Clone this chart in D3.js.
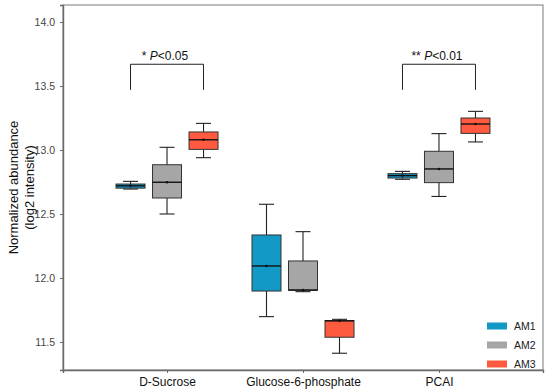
<!DOCTYPE html>
<html>
<head>
<meta charset="utf-8">
<script src="https://cdn.jsdelivr.net/npm/d3@7/dist/d3.min.js"></script>
<style>
  body { margin: 0; background: #fff; }
  svg { font-family: Arial, "Liberation Sans", sans-serif; }
</style>
</head>
<body>
<script>
const metabolites = ['D-Sucrose', 'Glucose-6-phosphate', 'PCAI']
const groups = ['AM1', 'AM2', 'AM3']
const groupColors = ['#1399c6', '#a6a6a6', '#fe5a3f']
const yTicks = [11.5, 12.0, 12.5, 13.0, 13.5, 14.0]

// box stats per group: [min, q1, median, q3, max], one entry per metabolite
const am1Stats = [
  [12.695, 12.702, 12.72, 12.734, 12.755],
  [11.698, 11.898, 12.094, 12.336, 12.576],
  [12.771, 12.781, 12.80, 12.815, 12.833]
]
const am2Stats = [
  [12.50, 12.625, 12.748, 12.885, 13.021],
  [11.893, 11.904, 11.906, 12.133, 12.362],
  [12.637, 12.745, 12.852, 12.99, 13.128]
]
const am3Stats = [
  [12.94, 13.005, 13.08, 13.141, 13.208],
  [11.412, 11.537, 11.665, 11.667, 11.677],
  [13.063, 13.13, 13.203, 13.25, 13.302]
]
const allStats = [am1Stats, am2Stats, am3Stats]

// significance brackets: metabolite, bracket top, leg bottom, label
const sigMetabolites = ['D-Sucrose', 'PCAI']
const sigTop = [13.67, 13.67]
const sigBottom = [13.47, 13.47]
const sigStars = ['*', '**']
const sigP = ['<0.05', '<0.01']

const width = 550
const height = 392
const margin = { top: 5, right: 7, bottom: 22, left: 63 }

const svg = d3.select('body').append('svg')
  .attr('width', width)
  .attr('height', height)

const x = d3.scalePoint()
  .domain(metabolites)
  .range([margin.left, width - margin.right])
  .padding(0.765)

const xGroup = d3.scalePoint()
  .domain(groups)
  .range([-36.5, 36.5])

const y = d3.scaleLinear()
  .domain([11.281, 14.133])
  .range([height - margin.bottom, margin.top])

const color = d3.scaleOrdinal().domain(groups).range(groupColors)

// panel border
svg.append('rect')
  .attr('x', margin.left)
  .attr('y', margin.top)
  .attr('width', width - margin.left - margin.right)
  .attr('height', height - margin.top - margin.bottom)
  .attr('fill', 'none')
  .attr('stroke', '#7a7a7a')
  .attr('stroke-width', 1)

// y axis
const yAxis = svg.append('g')
  .attr('transform', `translate(${margin.left},0)`)
  .call(d3.axisLeft(y).tickValues(yTicks).tickFormat(d3.format('.1f')).tickSize(3).tickPadding(5))
yAxis.select('.domain').attr('stroke', '#6a6a6a').attr('stroke-width', 1.4)
yAxis.selectAll('.tick line').attr('stroke', '#6a6a6a')
yAxis.selectAll('.tick text').attr('fill', '#444').style('font-size', '10.5px')

// x axis
const xAxis = svg.append('g')
  .attr('transform', `translate(0,${height - margin.bottom})`)
  .call(d3.axisBottom(x).tickSize(3).tickPadding(4))
xAxis.select('.domain').attr('stroke', '#6a6a6a').attr('stroke-width', 1.4)
xAxis.selectAll('.tick line').attr('stroke', '#6a6a6a')
xAxis.selectAll('.tick text').attr('fill', '#111').style('font-size', '12px')

// y title
const yTitle = svg.append('text')
  .attr('transform', `translate(13,${(margin.top + height - margin.bottom) / 2}) rotate(-90)`)
  .attr('text-anchor', 'middle')
  .attr('fill', '#111')
  .style('font-size', '13px')
yTitle.append('tspan').attr('x', 0).attr('dy', '0.35em').text('Normalized abundance')
yTitle.append('tspan').attr('x', 0).attr('dy', '16px').text('(log2 intensity)')

// boxes
const boxW = 29
const capW = 15
const boxes = []
groups.forEach((g, gi) => {
  metabolites.forEach((m, mi) => {
    const [min, q1, med, q3, max] = allStats[gi][mi]
    boxes.push({ g, m, min, q1, med, q3, max })
  })
})

const boxG = svg.append('g')
  .selectAll('g')
  .data(boxes)
  .enter()
  .append('g')
  .attr('transform', (d) => `translate(${x(d.m) + xGroup(d.g)},0)`)

boxG.append('line')
  .attr('y1', (d) => y(d.max))
  .attr('y2', (d) => y(d.min))
  .attr('stroke', '#222')
  .attr('stroke-width', 1.1)
boxG.append('line')
  .attr('x1', -capW / 2).attr('x2', capW / 2)
  .attr('y1', (d) => y(d.max)).attr('y2', (d) => y(d.max))
  .attr('stroke', '#222').attr('stroke-width', 1.1)
boxG.append('line')
  .attr('x1', -capW / 2).attr('x2', capW / 2)
  .attr('y1', (d) => y(d.min)).attr('y2', (d) => y(d.min))
  .attr('stroke', '#222').attr('stroke-width', 1.1)
boxG.append('rect')
  .attr('x', -boxW / 2)
  .attr('width', boxW)
  .attr('y', (d) => y(d.q3))
  .attr('height', (d) => Math.max(1, y(d.q1) - y(d.q3)))
  .attr('fill', (d) => color(d.g))
  .attr('stroke', '#333')
  .attr('stroke-width', 1)
boxG.append('line')
  .attr('x1', -boxW / 2).attr('x2', boxW / 2)
  .attr('y1', (d) => y(d.med)).attr('y2', (d) => y(d.med))
  .attr('stroke', '#111').attr('stroke-width', 1.4)
boxG.append('circle')
  .attr('cy', (d) => y(d.med))
  .attr('r', 1.3)
  .attr('fill', '#111')

// significance brackets
sigMetabolites.forEach((m, i) => {
  const x1 = x(m) + xGroup('AM1')
  const x2 = x(m) + xGroup('AM3')
  svg.append('path')
    .attr('d', `M${x1},${y(sigBottom[i])}V${y(sigTop[i])}H${x2}V${y(sigBottom[i])}`)
    .attr('fill', 'none')
    .attr('stroke', '#222')
    .attr('stroke-width', 1)
  const t = svg.append('text')
    .attr('x', (x1 + x2) / 2 - 2)
    .attr('y', y(sigTop[i]) - 4)
    .attr('text-anchor', 'middle')
    .attr('fill', '#111')
    .style('font-size', '12px')
  t.append('tspan').text(sigStars[i] + ' ')
  t.append('tspan').attr('font-style', 'italic').text('P')
  t.append('tspan').text(sigP[i])
})

// legend
const legend = svg.append('g')
  .selectAll('g')
  .data(groups)
  .enter()
  .append('g')
  .attr('transform', (d, i) => `translate(487,${326 + i * 19})`)
legend.append('rect')
  .attr('x', 0).attr('y', -3.5)
  .attr('width', 20).attr('height', 7)
  .attr('fill', (d) => color(d))
legend.append('text')
  .attr('x', 27).attr('y', 0)
  .attr('dy', '0.35em')
  .attr('fill', '#222')
  .style('font-size', '10.5px')
  .text((d) => d)
</script>
</body>
</html>
